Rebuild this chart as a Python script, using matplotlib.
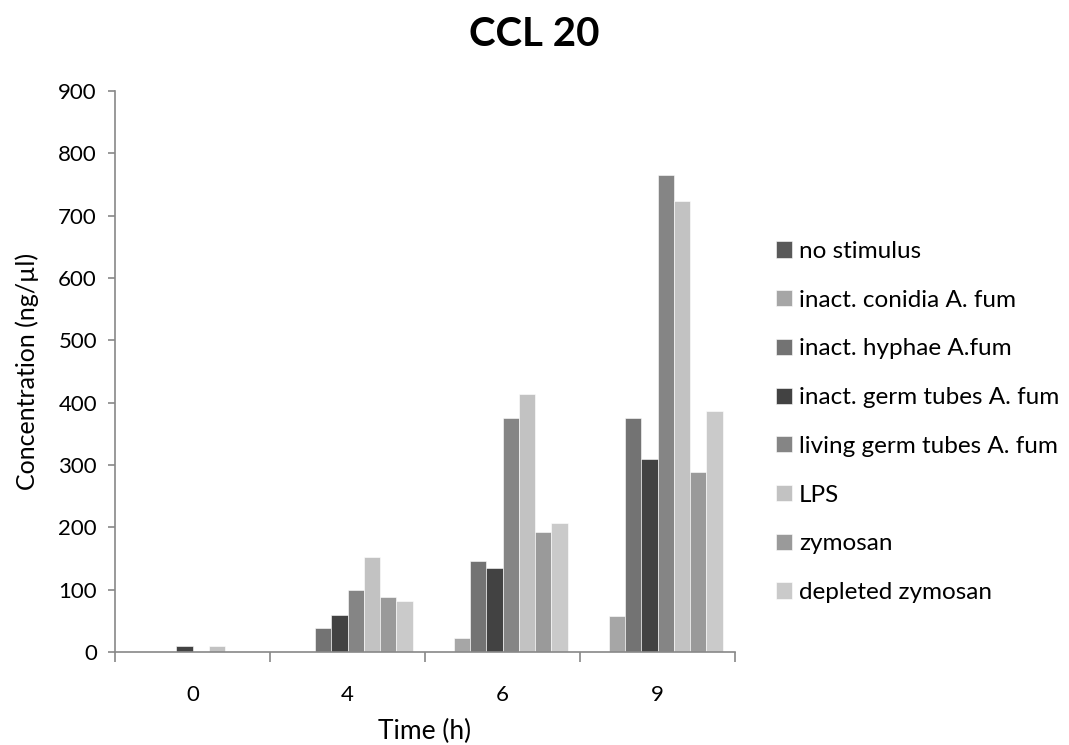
import numpy as np
import matplotlib
matplotlib.use("Agg")
import matplotlib.pyplot as plt

plt.rcParams['font.family'] = ['Lato', 'DejaVu Sans']

times = ['0', '4', '6', '9']
series = ['no stimulus', 'inact. conidia A. fum', 'inact. hyphae A.fum',
          'inact. germ tubes A. fum', 'living germ tubes A. fum', 'LPS',
          'zymosan', 'depleted zymosan']
no_stimulus = [0, 0, 0, 0]
conidia = [0, 0, 22, 57]
hyphae = [0, 39, 146, 376]
germ_tubes = [9, 60, 135, 309]
living_germ = [0, 100, 376, 765]
lps = [10, 153, 414, 724]
zymosan = [0, 88, 192, 289]
depleted = [0, 82, 207, 386]
colors = ['#595959', '#a6a6a6', '#737373', '#424242', '#858585', '#c2c2c2',
          '#9a9a9a', '#cacaca']

values = [no_stimulus, conidia, hyphae, germ_tubes, living_germ, lps, zymosan, depleted]

fig = plt.figure(figsize=(10.69, 7.45), dpi=100)
ax = fig.add_axes([0.1076, 0.1248, 0.58, 0.753])

x = np.arange(len(times))
w = 0.105
for i, (name, vals) in enumerate(zip(series, values)):
    ax.bar(x + (i - 3.5) * w, vals, width=w, color=colors[i], label=name,
           edgecolor='white', linewidth=0.4)

ax.set_xlim(-0.5, 3.5)
ax.set_ylim(0, 900)
ax.set_yticks(range(0, 901, 100))
ax.set_xticks(x)
ax.set_xticklabels(times)
ax.set_xticks(np.arange(-0.5, 3.6, 1), minor=True)
ax.tick_params(axis='x', which='major', length=0, labelsize=16, pad=24)
ax.tick_params(axis='x', which='minor', length=7, color='#888888', width=1.2, direction='out')
ax.tick_params(axis='y', length=5, color='#888888', width=1.2, labelsize=16, pad=8)

for s in ['top', 'right']:
    ax.spines[s].set_visible(False)
for s in ['left', 'bottom']:
    ax.spines[s].set_color('#888888')
    ax.spines[s].set_linewidth(1.2)

ax.set_xlabel('Time (h)', fontsize=19, labelpad=10)
ax.set_ylabel('Concentration (ng/µl)', fontsize=18, labelpad=14)
fig.suptitle('CCL 20', fontsize=29, fontweight='bold', x=0.5, y=0.978)

ax.legend(loc='center left', bbox_to_anchor=(1.066, 0.41), frameon=False,
          fontsize=17.5, handlelength=0.65, handleheight=0.65, handletextpad=0.3,
          labelspacing=1.14, borderpad=0, borderaxespad=0)

fig.savefig('out.png', dpi=100)
